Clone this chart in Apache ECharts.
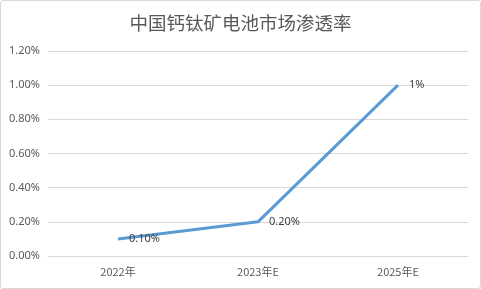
<!DOCTYPE html>
<html><head><meta charset="utf-8">
<script src="https://cdn.jsdelivr.net/npm/echarts@6/dist/echarts.min.js"></script>
<style>html,body{margin:0;padding:0;background:#fff}#c{width:481px;height:289px;box-sizing:border-box;border:1px solid #d9d9d9;border-radius:3px}</style>
</head><body><div id="c"></div>
<script>
const categories = ['2022年', '2023年E', '2025年E'];
const values = [0.10, 0.20, 1.00];
const valueLabels = ['0.10%', '0.20%', '1%'];
const chart = echarts.init(document.getElementById('c'));
chart.setOption({
  animation: false,
  title: { text: '中国钙钛矿电池市场渗透率', left: 'center', top: 8,
    textStyle: { fontSize: 18.5, fontWeight: 'normal', color: '#595959', fontFamily: 'Noto Sans CJK SC' } },
  grid: { left: 47, right: 12, top: 50, bottom: 32 },
  xAxis: { type: 'category', data: categories, boundaryGap: true,
    axisLine: { lineStyle: { color: '#d9d9d9' } }, axisTick: { show: false },
    axisLabel: { color: '#595959', fontSize: 11, margin: 10, fontFamily: 'Noto Sans CJK SC' } },
  yAxis: { type: 'value', min: 0, max: 1.2, interval: 0.2,
    axisLine: { show: false }, axisTick: { show: false },
    splitLine: { lineStyle: { color: '#d9d9d9' } },
    axisLabel: { color: '#595959', fontSize: 11, margin: 8, fontFamily: 'Noto Sans',
      formatter: v => v.toFixed(2) + '%' } },
  series: [{ type: 'line', data: values, symbol: 'circle', symbolSize: 2, showSymbol: true,
    itemStyle: { color: 'rgba(91,155,213,0)', borderWidth: 0 },
    lineStyle: { color: '#5b9bd5', width: 3 },
    label: { show: true, position: 'right', distance: 10, color: '#404040', fontSize: 11, fontFamily: 'Noto Sans',
      formatter: p => valueLabels[p.dataIndex] } }]
});
</script></body></html>
